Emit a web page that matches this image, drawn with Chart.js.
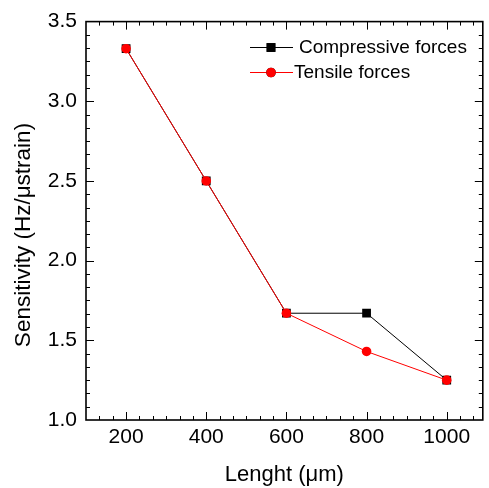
<!DOCTYPE html>
<html>
<head>
<meta charset="utf-8">
<script src="https://cdn.jsdelivr.net/npm/chart.js@4.4.0/dist/chart.umd.min.js"></script>
<style>
  html, body { margin: 0; padding: 0; background: #fff; overflow: hidden; }
  #wrap { width: 489px; height: 488px; }
</style>
</head>
<body>
<div id="wrap"><canvas id="chart"></canvas></div>
<script>
const lengths = [200, 400, 600, 800, 1000];
const compressive = [3.33, 2.50, 1.67, 1.67, 1.25];
const tensile = [3.33, 2.50, 1.67, 1.43, 1.25];
const xTicks = [200, 400, 600, 800, 1000];
const yTicks = [1.0, 1.5, 2.0, 2.5, 3.0, 3.5];
const yTitle = 'Sensitivity (Hz/μstrain)';

const FONT = "'Liberation Sans', Arial, sans-serif";

// box around the plot with inward ticks on all four sides (5 minors between majors)
const framePlugin = {
  id: 'frame',
  afterDraw(chart) {
    const { ctx, chartArea: a, scales: { x, y } } = chart;
    ctx.save();
    ctx.strokeStyle = '#000';
    ctx.lineWidth = 1;
    const xStep = (xTicks[1] - xTicks[0]) / 6;
    for (let k = -20; k < 60; k++) {
      const v = xTicks[0] + k * xStep;
      if (v <= x.min + 1e-6 || v >= x.max - 1e-6) continue;
      const len = k % 6 === 0 ? 8 : 4;
      const px = Math.round(x.getPixelForValue(v)) + 0.5;
      ctx.beginPath();
      ctx.moveTo(px, a.bottom); ctx.lineTo(px, a.bottom - len);
      ctx.moveTo(px, a.top); ctx.lineTo(px, a.top + len);
      ctx.stroke();
    }
    const yStep = (yTicks[1] - yTicks[0]) / 6;
    for (let k = -20; k < 60; k++) {
      const v = yTicks[0] + k * yStep;
      if (v <= y.min + 1e-6 || v >= y.max - 1e-6) continue;
      const len = k % 6 === 0 ? 8 : 4;
      const py = Math.round(y.getPixelForValue(v)) + 0.5;
      ctx.beginPath();
      ctx.moveTo(a.left, py); ctx.lineTo(a.left + len, py);
      ctx.moveTo(a.right, py); ctx.lineTo(a.right - len, py);
      ctx.stroke();
    }
    ctx.lineWidth = 1.6;
    ctx.strokeRect(a.left, a.top, a.right - a.left, a.bottom - a.top);

    // y axis title, a bit below the plot centre like the original
    ctx.save();
    ctx.translate(24, 235);
    ctx.rotate(-Math.PI / 2);
    ctx.font = '22.5px ' + FONT;
    ctx.fillStyle = '#000';
    ctx.textAlign = 'center';
    ctx.textBaseline = 'middle';
    ctx.fillText(yTitle, 0, 0);
    ctx.restore();

    // legend
    ctx.font = '19px ' + FONT;
    ctx.textBaseline = 'middle';
    ctx.textAlign = 'left';
    const rows = [
      { ds: chart.data.datasets[0], y: 47, textX: 299 },
      { ds: chart.data.datasets[1], y: 72, textX: 294 }
    ];
    rows.forEach(r => {
      ctx.strokeStyle = r.ds.borderColor;
      ctx.lineWidth = 1;
      ctx.beginPath();
      ctx.moveTo(250, r.y + 0.5); ctx.lineTo(293, r.y + 0.5);
      ctx.stroke();
      Chart.helpers.drawPoint(ctx, {
        pointStyle: r.ds.pointStyle, radius: r.ds.pointRadius, borderWidth: 0, rotation: 0
      }, 271, r.y + 0.5);
      ctx.fillStyle = r.ds.pointBackgroundColor;
      ctx.fill();
      ctx.fillStyle = '#000';
      ctx.fillText(r.ds.label, r.textX, r.y + 1);
    });
    ctx.restore();
  }
};

new Chart(document.getElementById('chart'), {
  type: 'line',
  data: {
    datasets: [
      {
        label: 'Compressive forces',
        data: lengths.map((v, i) => ({ x: v, y: compressive[i] })),
        borderColor: '#000',
        borderWidth: 1,
        pointStyle: 'rect',
        pointRadius: 6.2,
        pointBackgroundColor: '#000',
        pointBorderWidth: 0,
        order: 1
      },
      {
        label: 'Tensile forces',
        data: lengths.map((v, i) => ({ x: v, y: tensile[i] })),
        borderColor: '#ff0000',
        borderWidth: 1,
        pointStyle: 'circle',
        pointRadius: 4.8,
        pointBackgroundColor: '#ff0000',
        pointBorderWidth: 0,
        order: 0
      }
    ]
  },
  options: {
    responsive: true,
    maintainAspectRatio: false,
    animation: false,
    layout: { padding: { top: 18, right: 5, left: 0, bottom: 0 } },
    plugins: { legend: { display: false }, tooltip: { enabled: false } },
    scales: {
      x: {
        type: 'linear',
        min: 100,
        max: 1090,
        grid: { display: false, drawTicks: false },
        border: { display: false },
        afterBuildTicks: (s) => { s.ticks = xTicks.map(v => ({ value: v })); },
        afterFit: (s) => { s.height = 68; },
        ticks: { color: '#000', padding: 5, font: { family: FONT, size: 21 }, maxRotation: 0, callback: (v) => String(v) },
        title: { display: true, text: 'Lenght (μm)', color: '#000', font: { family: FONT, size: 22 }, padding: { top: 0, bottom: 0 } }
      },
      y: {
        min: 1.0,
        max: 3.5,
        grid: { display: false, drawTicks: false },
        border: { display: false },
        afterBuildTicks: (s) => { s.ticks = yTicks.map(v => ({ value: v })); },
        afterFit: (s) => { s.width = 86; },
        ticks: { color: '#000', padding: 9, font: { family: FONT, size: 21 }, callback: (v) => v.toFixed(1) },
        title: { display: false }
      }
    }
  },
  plugins: [framePlugin]
});
</script>
</body>
</html>
